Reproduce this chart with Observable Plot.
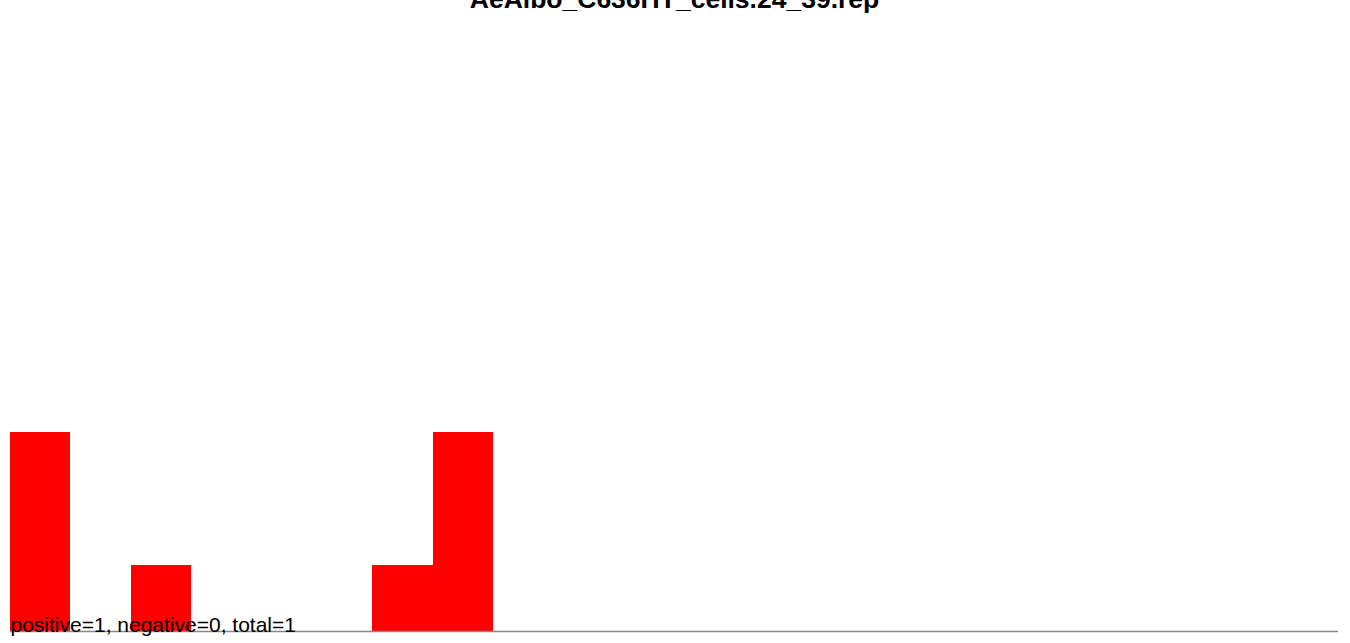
<!DOCTYPE html>
<html>
<head>
<meta charset="utf-8">
<script src="https://cdn.jsdelivr.net/npm/d3@7"></script>
<script src="https://cdn.jsdelivr.net/npm/@observablehq/plot@0.6"></script>
<style>
  html, body { margin: 0; padding: 0; background: #fff; }
  #chart { width: 1350px; height: 643px; overflow: hidden; }
</style>
</head>
<body>
<div id="chart"></div>
<script>
const title = "AeAlbo_C636HT_cells.24_39.rep";
const caption = "positive=1, negative=0, total=1";
const binIndex = [0,1,2,3,4,5,6,7,8,9,10,11,12,13,14,15,16,17,18,19,20,21];
const binValues = [3,0,1,0,0,0,1,3,0,0,0,0,0,0,0,0,0,0,0,0,0,0];

const data = binIndex.map((b, i) => ({b, v: binValues[i]})).filter(d => d.v > 0);

const chart = Plot.plot({
  width: 1350,
  height: 643,
  marginLeft: 10,
  marginRight: 12,
  marginTop: 34,
  marginBottom: 12,
  style: {fontFamily: "'Liberation Sans', Arial, sans-serif", background: "#fff", color: "#000"},
  x: {domain: [0, binIndex.length], axis: null},
  y: {domain: [0, 9], axis: null},
  marks: [
    Plot.rectY(data, {x1: "b", x2: d => d.b + 1, y: "v", fill: "#ff0000", inset: 0, shapeRendering: "crispEdges"}),
    Plot.ruleY([0], {stroke: "#888", strokeWidth: 1.5}),
    Plot.text([caption], {frameAnchor: "bottom-left", textAnchor: "start", lineAnchor: "bottom", fontSize: 21, fill: "#000"}),
    Plot.text([title], {frameAnchor: "top", textAnchor: "middle", lineAnchor: "bottom", dy: -27, fontSize: 26.5, fontWeight: "bold", fill: "#000"})
  ]
});
document.getElementById("chart").appendChild(chart);
</script>
</body>
</html>
